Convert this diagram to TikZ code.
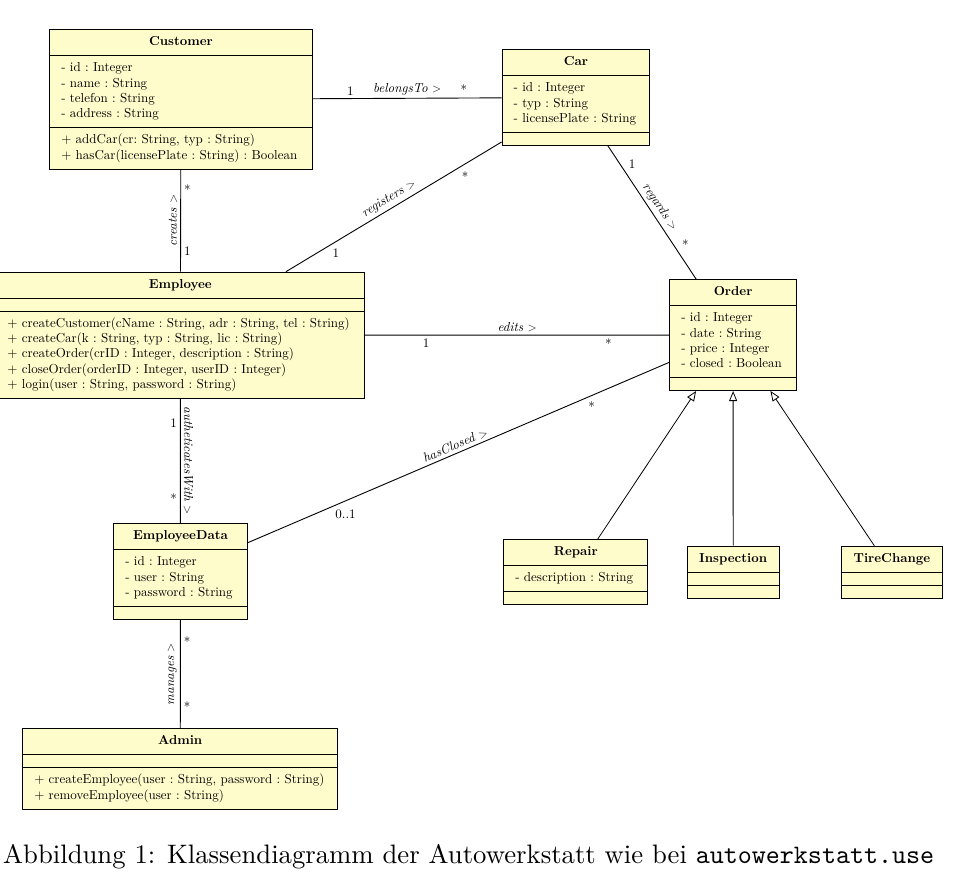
\documentclass[tikz,border=0pt]{standalone}
\usepackage{fontspec}
\setmainfont{lmroman10-regular}[Extension=.otf, BoldFont=lmroman10-bold, ItalicFont=lmroman10-italic]
\setmonofont{lmmono10-regular}[Extension=.otf]
\usetikzlibrary{shapes.multipart,arrows.meta}
\newcommand{\cl}[1]{\strut#1\strut}
\newcommand{\ctitle}[1]{\makebox[\linewidth]{\strut\textbf{#1}}}
\newcommand{\noattr}{\rule{0pt}{2.2pt}}
\tikzset{
  umlclass/.style={draw, line width=0.9pt, fill=yellow!20, rectangle split, rectangle split parts=3,
    inner xsep=11.5pt, inner ysep=4.9pt, text width=#1, align=left, anchor=north west,
    font=\fontsize{13}{15.3}\selectfont\frenchspacing},
  assoc/.style={line width=0.9pt},
  inherit/.style={line width=0.8pt, -{Triangle[open, length=10pt, width=8pt]}},
  lbl/.style={font=\fontsize{13}{15.3}\selectfont, inner sep=3pt}
}
\begin{document}
\begin{tikzpicture}[x=1pt, y=-1pt]
  \useasboundingbox (0,0) rectangle (968,891);
  \node[umlclass=239.4pt] (customer) at (49.3,29.3) {\ctitle{Customer}
    \nodepart{second}\cl{- id : Integer\\- name : String\\- telefon : String\\- address : String}
    \nodepart{third}\cl{+ addCar(cr: String, typ : String)\\+ hasCar(licensePlate : String) : Boolean}};
  \node[umlclass=124.6pt] (car) at (501.7,49.3) {\ctitle{Car}
    \nodepart{second}\cl{- id : Integer\\- typ : String\\- licensePlate : String}
    \nodepart{third}\noattr};
  \node[umlclass=345.8pt] (employee) at (-4.5,271.7) {\ctitle{Employee}
    \nodepart{second}\noattr
    \nodepart{third}\cl{+ createCustomer(cName : String, adr : String, tel : String)\\+ createCar(k : String, typ : String, lic : String)\\+ createOrder(crID : Integer, description : String)\\+ closeOrder(orderID : Integer, userID : Integer)\\+ login(user : String, password : String)}};
  \node[umlclass=103.7pt] (order) at (669.3,279.3) {\ctitle{Order}
    \nodepart{second}\cl{- id : Integer\\- date : String\\- price : Integer\\- closed : Boolean}
    \nodepart{third}\noattr};
  \node[umlclass=110.4pt] (empdata) at (113.3,523.3) {\ctitle{EmployeeData}
    \nodepart{second}\cl{- id : Integer\\- user : String\\- password : String}
    \nodepart{third}\noattr};
  \node[umlclass=121pt] (repair) at (503.3,539.3) {\ctitle{Repair}
    \nodepart{second}\cl{- description : String}
    \nodepart{third}\noattr};
  \node[umlclass=69pt] (inspection) at (686.7,545.7) {\ctitle{Inspection}
    \nodepart{second}\noattr
    \nodepart{third}\noattr};
  \node[umlclass=78.6pt] (tirechange) at (840.7,545.7) {\ctitle{TireChange}
    \nodepart{second}\noattr
    \nodepart{third}\noattr};
  \node[umlclass=292pt] (admin) at (22.3,728.3) {\ctitle{Admin}
    \nodepart{second}\noattr
    \nodepart{third}\cl{+ createEmployee(user : String, password : String)\\+ removeEmployee(user : String)}};

  \draw[assoc] (customer) -- node[lbl, pos=0.2, above] (m1) {1}
    node[lbl, pos=0.5, above] (belongsto) {\textit{belongsTo} $>$}
    node[lbl, pos=0.8, above] (m2) {*} (car);
  \draw[assoc] (customer) -- node[lbl, pos=0.2, right] (m3) {*}
    node[lbl, pos=0.5, rotate=90, anchor=south] (creates) {\textit{creates} $>$}
    node[lbl, pos=0.8, right] (m4) {1} (employee);
  \draw[assoc] (employee) -- node[lbl, pos=0.2, below right] (m5) {1}
    node[lbl, pos=0.5, sloped, above] (registers) {\textit{registers} $>$}
    node[lbl, pos=0.8, below right] (m6) {*} (car);
  \draw[assoc] (car) -- node[lbl, pos=0.2, above right] (m7) {1}
    node[lbl, pos=0.5, sloped, above] (regards) {\textit{regards} $>$}
    node[lbl, pos=0.8, above right] (m8) {*} (order);
  \draw[assoc] (employee) -- node[lbl, pos=0.2, below] (m9) {1}
    node[lbl, pos=0.5, above] (edits) {\textit{edits} $>$}
    node[lbl, pos=0.8, below] (m10) {*} (order);
  \draw[assoc] (employee) -- node[lbl, pos=0.2, left] (m11) {1}
    node[lbl, pos=0.5, rotate=-90, anchor=south] (authwith) {\textit{autheticatesWith} $>$}
    node[lbl, pos=0.8, left] (m12) {*} (empdata);
  \draw[assoc] (empdata) -- node[lbl, pos=0.2, below right] (m13) {0..1}
    node[lbl, pos=0.5, sloped, above] (hasclosed) {\textit{hasClosed} $>$}
    node[lbl, pos=0.8, below right] (m14) {*} (order);
  \draw[assoc] (empdata) -- node[lbl, pos=0.2, right] (m15) {*}
    node[lbl, pos=0.5, rotate=90, anchor=south] (manages) {\textit{manages} $>$}
    node[lbl, pos=0.8, right] (m16) {*} (admin);

  \draw[inherit] (repair) -- (order);
  \draw[inherit] (inspection) -- (order);
  \draw[inherit] (tirechange) -- (order);

  \node[anchor=base west, inner sep=0pt, font=\fontsize{26.7}{32}\selectfont] (caption) at (3,863)
    {Abbildung 1: Klassendiagramm der Autowerkstatt wie bei \texttt{autowerkstatt.use}};
\end{tikzpicture}
\end{document}
